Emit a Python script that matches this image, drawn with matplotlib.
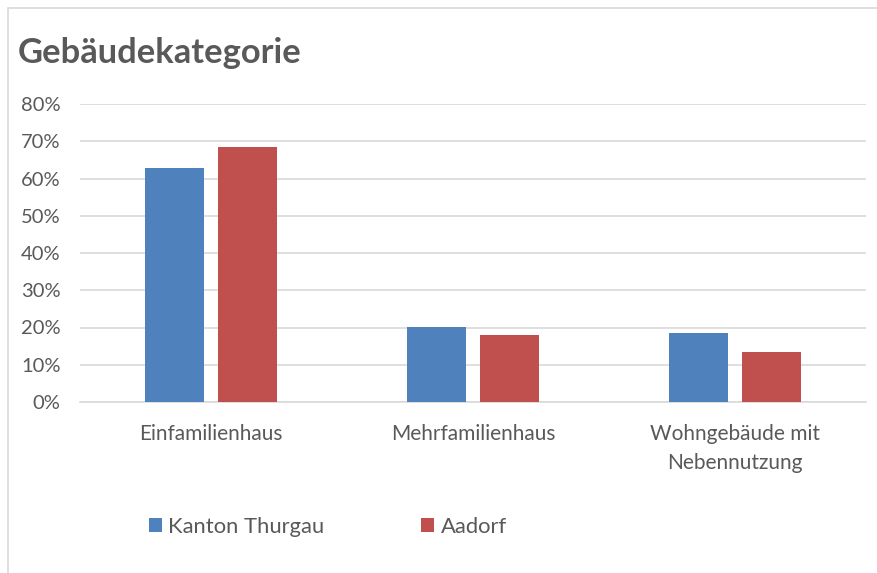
import numpy as np
import matplotlib.pyplot as plt
from matplotlib.patches import Rectangle
from matplotlib.ticker import FuncFormatter

categories = ['Einfamilienhaus', 'Mehrfamilienhaus', 'Wohngebäude mit\nNebennutzung']
thurgau = [62.7, 20.1, 18.5]
aadorf = [68.4, 18.0, 13.4]
series_names = ['Kanton Thurgau', 'Aadorf']

W, H = 877, 573
fig = plt.figure(figsize=(W / 100, H / 100), dpi=100)
plt.rcParams['font.family'] = ['Lato', 'DejaVu Sans']
txt = '#595959'

# chart border (light grey frame, open to the right/bottom)
fig.patches.append(Rectangle((8 / W, -0.05), 1.2, (H - 8) / H + 0.05, transform=fig.transFigure,
                             fill=False, edgecolor='#d9d9d9', linewidth=1.2))

# plot area
x0, x1 = 80, 866
y0, y1 = 402, 104
ax = fig.add_axes([x0 / W, 1 - y0 / H, (x1 - x0) / W, (y0 - y1) / H])

x = np.arange(len(categories))
bw = 0.225
off = 0.141
ax.bar(x - off, thurgau, bw, color='#4f81bd', label=series_names[0], zorder=3)
ax.bar(x + off, aadorf, bw, color='#c0504d', label=series_names[1], zorder=3)

ax.set_xlim(-0.5, 2.5)
ax.set_ylim(0, 80)
ax.set_yticks(np.arange(0, 81, 10))
ax.yaxis.set_major_formatter(FuncFormatter(lambda v, p: '%d%%' % v))
ax.grid(axis='y', color='#d9d9d9', linewidth=1.2, zorder=0)
for s in ['top', 'right', 'left']:
    ax.spines[s].set_visible(False)
ax.spines['bottom'].set_color('#d9d9d9')
ax.spines['bottom'].set_linewidth(1.2)
ax.tick_params(axis='y', length=0, pad=14, labelsize=14.5, labelcolor=txt)
ax.tick_params(axis='x', length=0, pad=16, labelsize=15, labelcolor=txt)
ax.set_xticks(x)
ax.set_xticklabels(categories, linespacing=1.55, va='top')

fig.text(18 / W, 1 - 53 / H, 'Gebäudekategorie', fontsize=24.8, fontweight='bold',
         color=txt, va='center', ha='left')

leg = fig.legend(loc='center left', bbox_to_anchor=(129 / W, 1 - 527 / H), ncol=2,
                 frameon=False, fontsize=15.8, handlelength=0.6, handleheight=0.6,
                 handletextpad=0.3, columnspacing=4.4, labelcolor=txt)

plt.savefig('out.png', dpi=100)
